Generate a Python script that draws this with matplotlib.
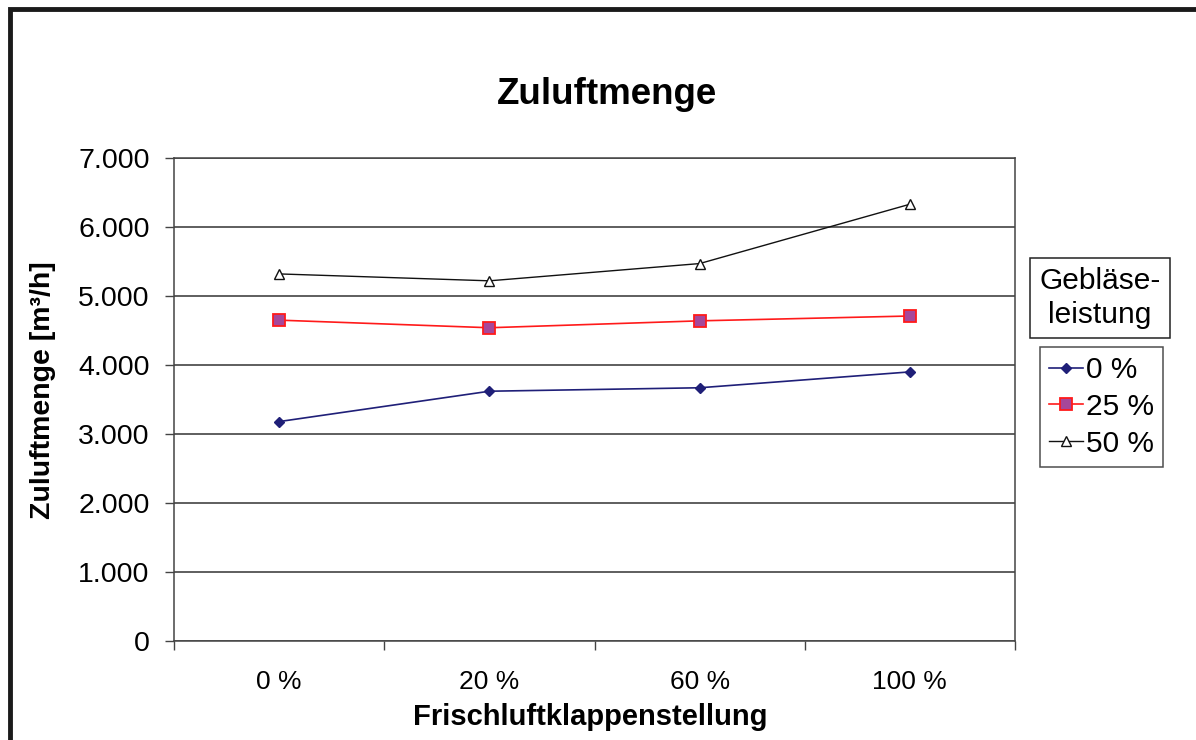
import matplotlib.pyplot as plt
from matplotlib.patches import Rectangle

plt.rcParams['font.family'] = ['Liberation Sans', 'DejaVu Sans']

categories = ['0 %', '20 %', '60 %', '100 %']
series_names = ['0 %', '25 %', '50 %']
v0 = [3180, 3620, 3670, 3900]
v25 = [4650, 4540, 4640, 4710]
v50 = [5320, 5220, 5470, 6330]
yticks = [0, 1000, 2000, 3000, 4000, 5000, 6000, 7000]
ytick_labels = ['0', '1.000', '2.000', '3.000', '4.000', '5.000', '6.000', '7.000']

fig = plt.figure(figsize=(11.96, 7.4), dpi=100)
ax = fig.add_axes([174 / 1196, 1 - 641 / 740, 841 / 1196, 483 / 740])

# outer chart frame (only top and left visible in the reference)
fig.patches.append(Rectangle((10 / 1196, -0.1), 1.2, 1 - 9 / 740 + 0.1,
                             transform=fig.transFigure, fill=False,
                             edgecolor='#1a1a1a', linewidth=3.5))

x = range(len(categories))
ax.plot(x, v0, color='#1f1f78', lw=1.2, marker='D', ms=5.5,
        mfc='#1f1f78', mec='#1f1f78', label=series_names[0])
ax.plot(x, v25, color='#ff1a1a', lw=1.2, marker='s', ms=8,
        mfc='#a6479a', mec='#ff1a1a', mew=1.3, label=series_names[1])
ax.plot(x, v50, color='#111111', lw=1.0, marker='^', ms=7,
        mfc='white', mec='#111111', mew=1.0, label=series_names[2])

ax.set_xlim(-0.5, 3.5)
ax.set_ylim(0, 7000)
ax.set_yticks(yticks)
ax.set_yticklabels(ytick_labels)
ax.set_xticks([-0.5, 0.5, 1.5, 2.5, 3.5])
ax.set_xticklabels([])
ax.set_xticks(list(x), minor=True)
ax.set_xticklabels(categories, minor=True)
ax.tick_params(axis='x', which='minor', length=0, pad=21, labelsize=19)
ax.tick_params(axis='x', which='major', length=6.5, width=1, color='#444444')
ax.tick_params(axis='y', length=6.5, width=1, color='#444444', labelsize=20.5, pad=11)
ax.yaxis.grid(True, color='#333333', lw=1.1)
ax.set_axisbelow(True)
for s in ax.spines.values():
    s.set_color('#444444')
    s.set_linewidth(1.1)

fig.text(607 / 1196, 1 - 95 / 740, 'Zuluftmenge', ha='center', va='center',
         fontsize=26.5, fontweight='bold')
fig.text(590 / 1196, 1 - 717 / 740, 'Frischluftklappenstellung', ha='center',
         va='center', fontsize=21, fontweight='bold')
fig.text(43 / 1196, 1 - 390 / 740, 'Zuluftmenge [m³/h]', ha='center',
         va='center', rotation=90, fontsize=20.5, fontweight='bold')

fig.text(1100 / 1196, 1 - 298 / 740, 'Gebläse-\nleistung', ha='center',
         va='center', fontsize=21.5, linespacing=1.25,
         bbox=dict(boxstyle='square,pad=0.3', fc='white', ec='#222222', lw=1.1))

leg = fig.legend(loc='upper left', bbox_to_anchor=(1040 / 1196, 1 - 347 / 740),
                 fontsize=21.5, frameon=True, fancybox=False, edgecolor='#222222',
                 handlelength=1.15, handletextpad=0.1, borderpad=0.3,
                 labelspacing=0.3, borderaxespad=0)
leg.get_frame().set_linewidth(1.1)

fig.savefig('out.png', dpi=100)
